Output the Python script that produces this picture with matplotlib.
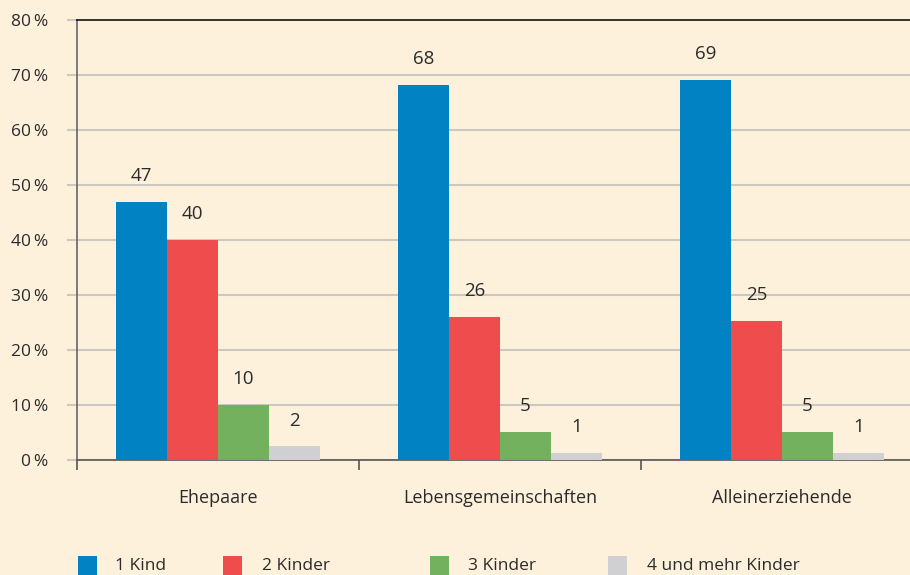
import matplotlib
matplotlib.use("Agg")
import matplotlib.pyplot as plt
from matplotlib.patches import Rectangle
import numpy as np

categories = ["Ehepaare", "Lebensgemeinschaften", "Alleinerziehende"]
series_names = ["1 Kind", "2 Kinder", "3 Kinder", "4 und mehr Kinder"]
values = {
    "1 Kind": [46.9, 68.2, 69.1],
    "2 Kinder": [40.0, 26.0, 25.3],
    "3 Kinder": [10.0, 5.1, 5.1],
    "4 und mehr Kinder": [2.5, 1.3, 1.3],
}
labels = {
    "1 Kind": ["47", "68", "69"],
    "2 Kinder": ["40", "26", "25"],
    "3 Kinder": ["10", "5", "5"],
    "4 und mehr Kinder": ["2", "1", "1"],
}
yticks = [0, 10, 20, 30, 40, 50, 60, 70, 80]
ytick_labels = ["0\u2009%", "10\u2009%", "20\u2009%", "30\u2009%", "40\u2009%",
                "50\u2009%", "60\u2009%", "70\u2009%", "80\u2009%"]

colors = ["#0082C3", "#EF4D4D", "#74B15F", "#D0D0D2"]
bg = "#FEF1DC"
txt = "#2b2b2b"

plt.rcParams["font.family"] = ["Open Sans", "DejaVu Sans"]

fig = plt.figure(figsize=(9.1, 5.75), dpi=100, facecolor=bg)
W, H = 910, 575
ax = fig.add_axes([77 / W, 115 / H, 846 / W, 440 / H])
ax.set_facecolor(bg)

x = np.arange(len(categories))
bw = 0.181
offsets = (np.arange(4) - 1.5) * bw
for i, name in enumerate(series_names):
    bars = ax.bar(x + offsets[i], values[name], width=bw, color=colors[i],
                  zorder=3, linewidth=0)
    for b, lab in zip(bars, labels[name]):
        ax.annotate(lab, (b.get_x() + b.get_width() / 2, b.get_height()),
                    xytext=(0, 12), textcoords="offset points",
                    ha="center", va="bottom", fontsize=13.5, color=txt)

ax.set_xlim(-0.5, 2.5)
ax.set_ylim(0, 80)
ax.set_yticks(yticks)
ax.set_yticklabels(ytick_labels, fontsize=12.5, color=txt)
ax.yaxis.grid(True, color="#CBC8C1", linewidth=1.5, zorder=0)
ax.tick_params(axis="y", length=7, width=1.5, color="#CBC8C1", pad=14)
ticks = ax.yaxis.get_major_ticks()
ticks[0].tick1line.set_color("#555555")
ticks[-1].tick1line.set_color("#111111")
ticks[-1].gridline.set_visible(False)

ax.set_xticks([-0.5, 0.5, 1.5, 2.5])
ax.set_xticklabels([])
ax.tick_params(axis="x", which="major", length=7, width=1.2, color="#555555")
ax.set_xticks(x, minor=True)
ax.set_xticklabels(categories, minor=True, fontsize=13, color=txt)
ax.tick_params(axis="x", which="minor", length=0, pad=21)

ax.spines["right"].set_visible(False)
ax.spines["top"].set_color("#111111")
ax.spines["top"].set_linewidth(1.2)
ax.spines["left"].set_color("#666666")
ax.spines["left"].set_linewidth(1.2)
ax.spines["bottom"].set_color("#555555")
ax.spines["bottom"].set_linewidth(1.2)

# legend
sq_x = [78, 223, 430, 608]
tx_x = [115, 262, 468, 647]
for i, name in enumerate(series_names):
    fig.add_artist(Rectangle((sq_x[i] / W, (575 - 577) / H), 19 / W, 21 / H,
                             transform=fig.transFigure, facecolor=colors[i],
                             edgecolor="none"))
    fig.text(tx_x[i] / W, (575 - 566) / H, name, fontsize=12.5, color=txt,
             ha="left", va="center")

fig.savefig("out.png", dpi=100, facecolor=bg)
